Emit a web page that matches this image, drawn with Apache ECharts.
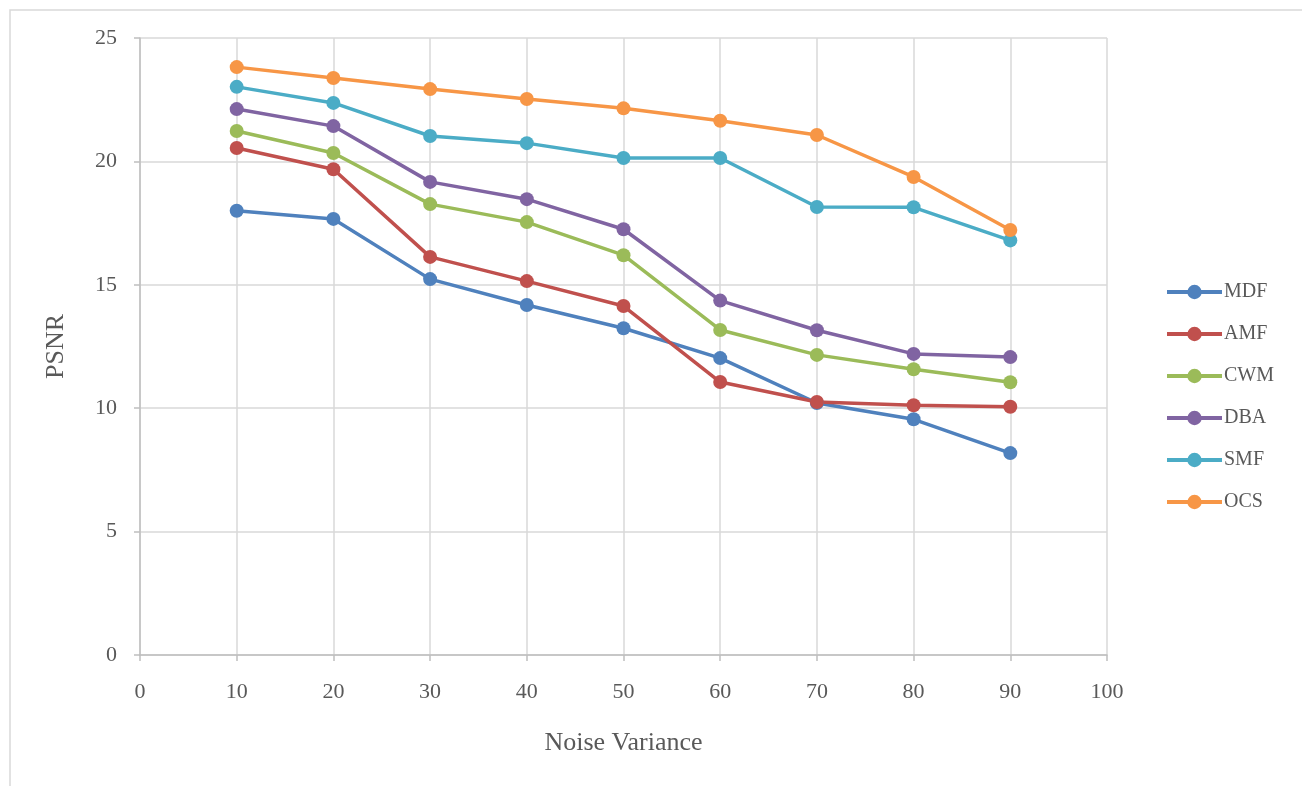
<!DOCTYPE html>
<html>
<head>
<meta charset="utf-8">
<script src="https://cdn.jsdelivr.net/npm/echarts@6/dist/echarts.min.js"></script>
<style>
    html, body { margin: 0; padding: 0; background: #fff; }
    #main { width: 1302px; height: 786px; }
</style>
</head>
<body>
<div id="main"></div>
<script>
// noise variance (x values)
const noiseVar = [10, 20, 30, 40, 50, 60, 70, 80, 90];

// PSNR per method
const mdf = [18.0, 17.67, 15.23, 14.18, 13.24, 12.03, 10.21, 9.55, 8.18];
const amf = [20.54, 19.68, 16.13, 15.15, 14.14, 11.06, 10.25, 10.12, 10.06];
const cwm = [21.23, 20.34, 18.27, 17.54, 16.2, 13.17, 12.16, 11.58, 11.05];
const dba = [22.12, 21.43, 19.17, 18.47, 17.25, 14.36, 13.16, 12.2, 12.07];
const smf = [23.02, 22.37, 21.03, 20.74, 20.14, 20.14, 18.15, 18.14, 16.8];
const ocs = [23.82, 23.38, 22.93, 22.53, 22.15, 21.65, 21.07, 19.37, 17.22];

const names = ['MDF', 'AMF', 'CWM', 'DBA', 'SMF', 'OCS'];
const colors = ['#4f81bd', '#c0504d', '#9bbb59', '#8064a2', '#4bacc6', '#f79646'];
const allData = [mdf, amf, cwm, dba, smf, ocs];

const font = '"Liberation Serif", "Times New Roman", serif';

var myChart = echarts.init(document.getElementById('main'));

//拼出每条折线
let series = [];
for (let i = 0; i < names.length; i++) {
    series.push({
        name: names[i],
        type: 'line',
        data: noiseVar.map((x, j) => [x, allData[i][j]]),
        symbol: 'circle',
        symbolSize: 14,
        lineStyle: { width: 3.5, color: colors[i] },
        itemStyle: { color: colors[i] },
        emphasis: { disabled: true }
    });
}

var option = {
    animation: false,
    color: colors,
    graphic: [{
        type: 'rect',
        shape: { x: 10, y: 10, width: 1300, height: 780 },
        style: { fill: 'none', stroke: '#d9d9d9', lineWidth: 1.5 },
        silent: true
    }],
    grid: { left: 140, right: 195, top: 38, bottom: 131 },
    legend: {
        orient: 'vertical',
        left: 1160,
        top: 277,
        itemWidth: 55,
        itemHeight: 18,
        itemGap: 22,
        data: names,
        lineStyle: { width: 4 },
        textStyle: { fontFamily: font, fontSize: 20, color: '#595959', padding: [0, 0, 0, -3] }
    },
    xAxis: {
        type: 'value',
        min: 0,
        max: 100,
        interval: 10,
        name: 'Noise Variance',
        nameLocation: 'middle',
        nameGap: 75,
        nameTextStyle: { fontFamily: font, fontSize: 26, color: '#595959' },
        axisLine: { show: true, lineStyle: { color: '#bfbfbf', width: 1.5 } },
        axisTick: { show: true, length: 6, lineStyle: { color: '#bfbfbf', width: 1.5 } },
        axisLabel: { fontFamily: font, fontSize: 22, color: '#595959', margin: 26 },
        splitLine: { show: true, lineStyle: { color: '#d9d9d9', width: 1.5 } }
    },
    yAxis: {
        type: 'value',
        min: 0,
        max: 25,
        interval: 5,
        name: 'PSNR',
        nameLocation: 'middle',
        nameRotate: 90,
        nameGap: 71,
        nameTextStyle: { fontFamily: font, fontSize: 26, color: '#595959' },
        axisLine: { show: true, lineStyle: { color: '#bfbfbf', width: 1.5 } },
        axisTick: { show: true, length: 6, lineStyle: { color: '#bfbfbf', width: 1.5 } },
        axisLabel: { fontFamily: font, fontSize: 22, color: '#595959', margin: 23 },
        splitLine: { show: true, lineStyle: { color: '#d9d9d9', width: 1.5 } }
    },
    series: series
};

myChart.setOption(option);
</script>
</body>
</html>
